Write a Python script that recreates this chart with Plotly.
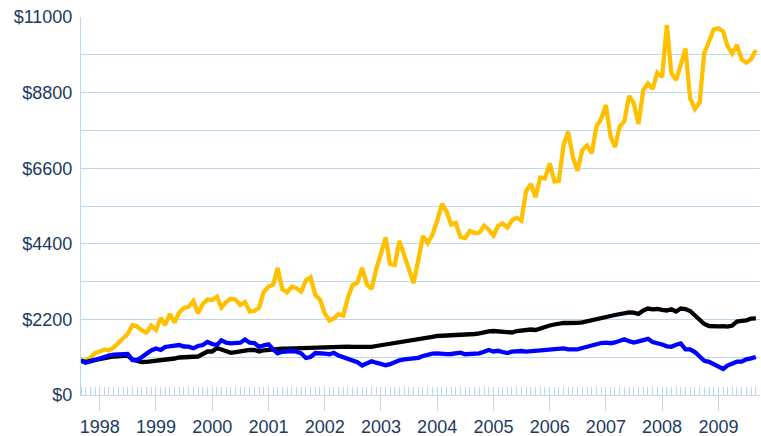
import pandas as pd
import plotly.graph_objects as go

# Monthly values, Sep 1997 .. Sep 2009 (growth of $1000)
start_month = "1997-09-01"

gold_values = [
    1000, 1000, 1077, 1222, 1266, 1324, 1295, 1382, 1513, 1644,
    1775, 2037, 1993, 1877, 1819, 2022, 1892, 2241, 2037, 2357,
    2110, 2401, 2532, 2567, 2735, 2377, 2648, 2779, 2765, 2858,
    2546, 2706, 2802, 2773, 2619, 2706, 2430, 2444, 2540, 2997,
    3157, 3216, 3696, 3070, 2983, 3149, 3114, 3006, 3332, 3425,
    2910, 2779, 2372, 2168, 2226, 2357, 2308, 2837, 3201, 3268,
    3704, 3221, 3085, 3652, 4161, 4583, 3812, 3783, 4481, 4074,
    3696, 3259, 3929, 4627, 4423, 4656, 5063, 5558, 5354, 4962,
    5005, 4598, 4569, 4772, 4714, 4723, 4927, 4810, 4641, 4927,
    4991, 4874, 5084, 5159, 5072, 5936, 6140, 5753, 6329, 6306,
    6742, 6213, 6227, 7275, 7662, 6911, 6527, 7130, 7260, 7042,
    7813, 8032, 8439, 7508, 7217, 7813, 7973, 8701, 8497, 7886,
    8876, 9065, 8905, 9379, 9254, 10767, 9370, 9167, 9603, 10083,
    8628, 8323, 8512, 9952, 10287, 10642, 10671, 10578, 10156, 9937,
    10185, 9763, 9670, 9769, 10040,
]

blue_values = [
    1000, 940, 975, 1019, 1077, 1135, 1149, 1178, 1184, 1193,
    1193, 1019, 1019, 1106, 1208, 1295, 1353, 1310, 1397, 1406,
    1420, 1455, 1411, 1406, 1359, 1426, 1455, 1542, 1484, 1455,
    1592, 1522, 1504, 1519, 1522, 1615, 1522, 1513, 1397, 1446,
    1475, 1324, 1213, 1257, 1280, 1280, 1260, 1213, 1077, 1106,
    1222, 1222, 1205, 1184, 1228, 1149, 1097, 1048, 998, 952,
    856, 931, 981, 940, 888, 867, 896, 960, 1010, 1039,
    1053, 1062, 1083, 1135, 1181, 1205, 1211, 1193, 1187, 1193,
    1213, 1231, 1187, 1190, 1199, 1213, 1260, 1310, 1266, 1286,
    1251, 1222, 1260, 1280, 1280, 1260, 1275, 1295, 1315, 1330,
    1330, 1339, 1359, 1359, 1330, 1315, 1327, 1368, 1403, 1455,
    1490, 1513, 1522, 1507, 1528, 1566, 1621, 1566, 1528, 1563,
    1615, 1635, 1542, 1513, 1470, 1417, 1403, 1461, 1499, 1330,
    1330, 1251, 1126, 995, 966, 893, 829, 757, 858, 931,
    969, 975, 1039, 1065, 1106,
]

black_values = [
    1000, 960, 990, 1019, 1033, 1062, 1106, 1120, 1126, 1135,
    1149, 1033, 998, 960, 966, 981, 990, 990, 1004, 1019,
    1062, 1091, 1097, 1106, 1083, 1120, 1193, 1266, 1266, 1368,
    1324, 1260, 1228, 1251, 1280, 1310, 1315, 1310, 1266, 1301,
    1318, 1330, 1339, 1347, 1350, 1356, 1359, 1365, 1374, 1379,
    1388, 1397, 1403, 1406, 1406, 1406, 1406, 1406, 1400, 1394,
    1391, 1397, 1403, 1426, 1446, 1470, 1493, 1513, 1554, 1563,
    1571, 1592, 1615, 1644, 1670, 1694, 1717, 1723, 1717, 1717,
    1723, 1726, 1734, 1746, 1775, 1795, 1833, 1854, 1862, 1848,
    1825, 1804, 1819, 1862, 1877, 1900, 1906, 1892, 1941, 1993,
    2022, 2052, 2086, 2101, 2095, 2089, 2101, 2116, 2142, 2174,
    2212, 2247, 2264, 2299, 2328, 2363, 2401, 2407, 2398, 2357,
    2459, 2517, 2494, 2503, 2479, 2459, 2497, 2430, 2517, 2503,
    2444, 2328, 2183, 2066, 2008, 1990, 1999, 2002, 1990, 2022,
    2139, 2159, 2174, 2226, 2232,
]

y_tick_values = [0, 1100, 2200, 3300, 4400, 5500, 6600, 7700, 8800, 9900, 11000]
y_tick_labels = ["$0", "", "$2200", "", "$4400", "", "$6600", "", "$8800", "", "$11000"]

dates = pd.date_range(start_month, periods=len(gold_values), freq="MS")

GRID = "#BDD7EE"
TEXT = "#1B3A63"

fig = go.Figure()
fig.add_trace(go.Scatter(x=dates, y=gold_values, mode="lines",
                         line=dict(color="#FFC000", width=4.3), name="Gold"))
fig.add_trace(go.Scatter(x=dates, y=black_values, mode="lines",
                         line=dict(color="#000000", width=4.3), name="Black"))
fig.add_trace(go.Scatter(x=dates, y=blue_values, mode="lines",
                         line=dict(color="#0000FF", width=4.3), name="Blue"))

fig.update_layout(
    width=761, height=436,
    margin=dict(l=81, r=1, t=17, b=41),
    paper_bgcolor="white", plot_bgcolor="white",
    showlegend=False,
    font=dict(family="Liberation Sans, Arial, sans-serif", size=18, color=TEXT),
)
fig.update_xaxes(
    type="date", automargin=False,
    range=["1997-09-01", "2009-09-28"],
    tick0="1998-01-01", dtick="M12", tickformat="%Y",
    ticks="outside", ticklen=15, tickcolor=GRID, tickwidth=1,
    showgrid=False, zeroline=False,
    showline=True, linecolor=GRID, linewidth=1,
    minor=dict(dtick="M1", ticks="inside", ticklen=8, tickcolor=GRID, tickwidth=1, showgrid=False),
    tickfont=dict(size=18, color=TEXT),
)
fig.update_yaxes(
    automargin=False,
    range=[0, 11000],
    tickmode="array", tickvals=y_tick_values, ticktext=y_tick_labels,
    showgrid=True, gridcolor=GRID, gridwidth=1,
    zeroline=False, showline=True, linecolor=GRID, linewidth=1,
    ticks="", ticklabelstandoff=4,
    tickfont=dict(size=18, color=TEXT),
)

fig.write_html(
    "out.html",
    config={"displayModeBar": False},
    post_script="document.body.style.margin='0';document.body.style.overflow='hidden';",
)
